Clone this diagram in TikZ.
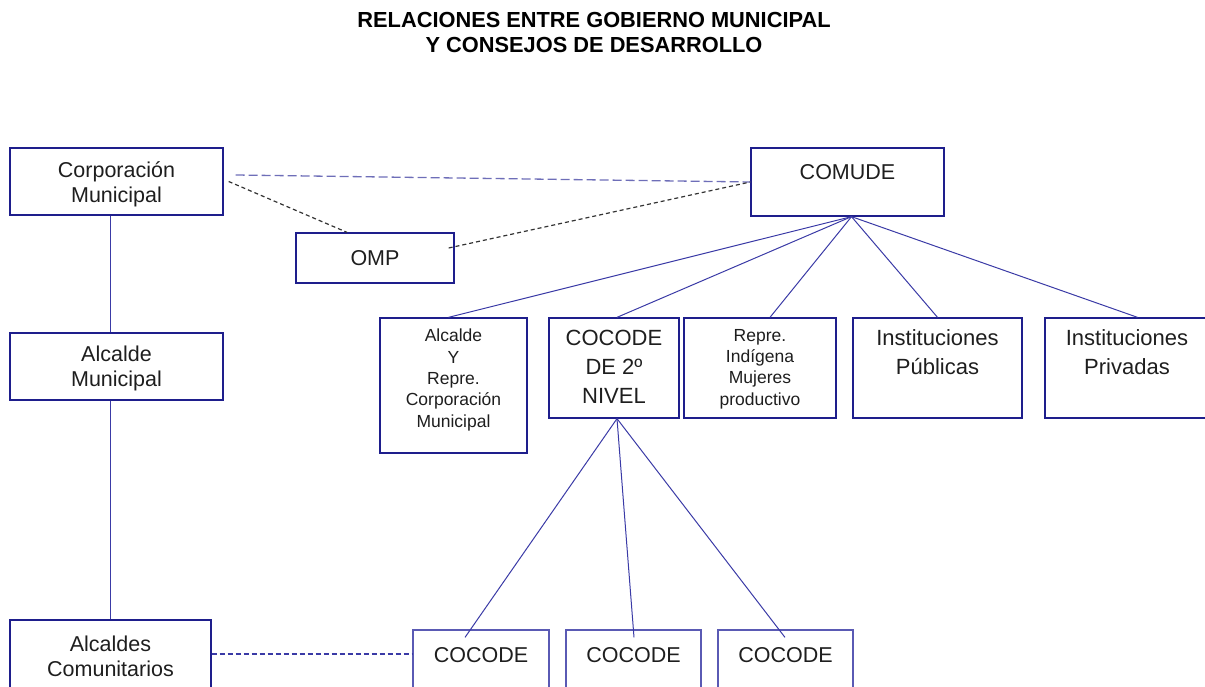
\documentclass[tikz,border=0pt]{standalone}
\usepackage{fontspec}
\setmainfont{Liberation Sans}
\definecolor{navy}{HTML}{1E1E8C}
\definecolor{lnblue}{HTML}{3A3AA6}
\definecolor{lightnavy}{HTML}{5A5AB4}
\definecolor{lav}{HTML}{6E6EB8}
\definecolor{txtgray}{HTML}{1E1E1E}
\begin{document}
\begin{tikzpicture}[x=1pt,y=-1pt,
  box/.style={draw=navy,line width=1.3pt,rectangle,inner sep=0pt,fill=none},
  lbox/.style={draw=lightnavy,line width=1.2pt,rectangle,inner sep=0pt},
  big/.style={text=txtgray,align=center,inner sep=0pt,font=\fontsize{21.5}{25}\selectfont},
  bigw/.style={text=txtgray,align=center,inner sep=0pt,font=\fontsize{22}{29}\selectfont},
  small/.style={text=txtgray,align=center,inner sep=0pt,font=\fontsize{17.5}{21.3}\selectfont},
  link/.style={draw=lnblue,line width=1pt},
  bdash/.style={draw=black!80,line width=1.2pt,dash pattern=on 4pt off 3pt},
  vdash/.style={draw=lav,line width=1.3pt,dash pattern=on 9pt off 4pt},
  udash/.style={draw=lnblue,line width=1.1pt,dash pattern=on 5pt off 3pt}]
\useasboundingbox (0,0) rectangle (1205,687);
\clip (0,0) rectangle (1205,687);
% title
\node[text=black,align=center,inner sep=0pt,font=\bfseries\fontsize{21.8}{25}\selectfont] (title) at (594,32) {RELACIONES ENTRE GOBIERNO MUNICIPAL\\Y CONSEJOS DE DESARROLLO};
% boxes
\node[box,minimum width=213pt,minimum height=67pt] (corp) at (116.5,181.5) {};
\node[big] (corpt) at (116.5,184) {Corporación\\Municipal};
\node[box,minimum width=213pt,minimum height=67pt] (alc) at (116.5,366.5) {};
\node[big] (alct) at (116.5,368) {Alcalde\\Municipal};
\node[box,minimum width=201pt,minimum height=80pt] (alcc) at (110.5,660) {};
\node[big] (alcct) at (110.5,656) {Alcaldes\\Comunitarios};
\node[box,minimum width=158pt,minimum height=50pt] (omp) at (375,258) {};
\node[big] (ompt) at (375,258) {OMP};
\node[box,minimum width=193pt,minimum height=68pt] (comude) at (847.5,182) {};
\node[big] (comudet) at (847.5,172) {COMUDE};
\node[box,minimum width=147pt,minimum height=135pt] (alcy) at (453.5,385.5) {};
\node[small] (alcyt) at (453.5,380) {Alcalde\\Y\\Repre.\\Corporación\\Municipal};
\node[box,minimum width=130pt,minimum height=100pt] (cc2n) at (614,368) {};
\node[bigw] (cc2nt) at (614,366.5) {COCODE\\DE 2º\\NIVEL};
\node[box,minimum width=152pt,minimum height=100pt] (rep) at (760,368) {};
\node[small] (rept) at (760,369) {Repre.\\Indígena\\Mujeres\\productivo};
\node[box,minimum width=169pt,minimum height=100pt] (ipub) at (937.5,368) {};
\node[bigw] (ipubt) at (937.5,352.5) {Instituciones\\Públicas};
\node[box,minimum width=185pt,minimum height=100pt] (ipriv) at (1137.5,368) {};
\node[bigw] (iprivt) at (1127,352.5) {Instituciones\\Privadas};
\node[lbox,minimum width=136pt,minimum height=80pt] (cc1) at (481,670) {};
\node[big] (cc1t) at (481,655) {COCODE};
\node[lbox,minimum width=135pt,minimum height=80pt] (cc2) at (633.5,670) {};
\node[big] (cc2t) at (633.5,655) {COCODE};
\node[lbox,minimum width=135pt,minimum height=80pt] (cc3) at (785.5,670) {};
\node[big] (cc3t) at (785.5,655) {COCODE};
% vertical hierarchy
\draw[link] ([xshift=-6.5pt]corp.south) -- ([xshift=-6.5pt]alc.north);
\draw[link] ([xshift=-6.5pt]alc.south) -- ([xshift=-0.5pt]alcc.north);
% dashed relations
\draw[vdash] ([xshift=12pt,yshift=6.5pt]corp.east) -- (comude.west);
\draw[bdash] ([xshift=5pt]corp.east) -- ([xshift=-28pt]omp.north);
\draw[bdash] ([xshift=-6pt,yshift=10pt]omp.east) -- (comude.west);
\draw[udash] ([yshift=6pt]alcc.east) -- ([yshift=16pt]cc1.west);
% COMUDE fan
\draw[link] ([xshift=4pt]comude.south) -- ([xshift=-5pt]alcy.north);
\draw[link] ([xshift=4pt]comude.south) -- ([xshift=3pt]cc2n.north);
\draw[link] ([xshift=4pt]comude.south) -- ([xshift=10pt]rep.north);
\draw[link] ([xshift=4pt]comude.south) -- (ipub.north);
\draw[link] ([xshift=4pt]comude.south) -- (ipriv.north);
% COCODE 2nd level fan
\draw[link] ([xshift=3pt]cc2n.south) -- ([xshift=-16pt,yshift=-8pt]cc1.north);
\draw[link] ([xshift=3pt]cc2n.south) -- ([xshift=0.5pt,yshift=-8pt]cc2.north);
\draw[link] ([xshift=3pt]cc2n.south) -- ([xshift=-0.5pt,yshift=-8pt]cc3.north);
\end{tikzpicture}
\end{document}
